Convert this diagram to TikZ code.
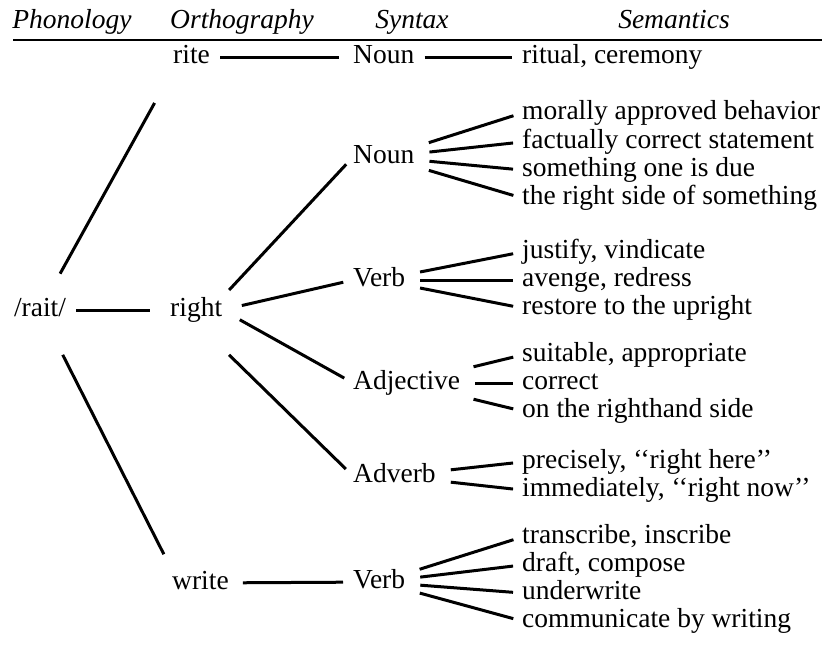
\documentclass[tikz,border=0pt]{standalone}
\usepackage{fontspec}
\setmainfont{Liberation Serif}
\def\sense{\node[sense]}
\def\synnode{\node[syn]}

\begin{document}
\begin{tikzpicture}[x=1pt,y=-1pt,
  every node/.style={inner sep=0pt,text height=19pt,text depth=6pt,
    font=\fontsize{27.5}{28}\selectfont},
  head/.style={font=\fontsize{27.5}{28}\selectfont\itshape},
  word/.style={anchor=west},
  syn/.style={anchor=west},
  sense/.style={anchor=west},
  link/.style={line width=3pt,shorten <=10pt,shorten >=10pt},
  fan/.style={line width=3pt,shorten <=15pt,shorten >=9pt}]
\useasboundingbox (0,0) rectangle (827,645);
% column heads
\node[head] (hphon) at (72,22) {Phonology};
\node[head] (horth) at (242,22) {Orthography};
\node[head] (hsyn) at (412,22) {Syntax};
\node[head] (hsem) at (674,22) {Semantics};
\draw[line width=2pt] (13,40) -- (822,40);
% sound and spellings
\node (rait) at (40,310) {/rait/};
\node[word] (rite) at (173,57) {rite};
\node[word] (right) at (170,310) {right};
\node[word] (write) at (172,583) {write};
% parts of speech
\synnode (noun1) at (353,57) {Noun};
\synnode (noun2) at (353,157) {Noun};
\synnode (verb1) at (353,280) {Verb};
\synnode (adj) at (353,383) {Adjective};
\synnode (adv) at (353,476) {Adverb};
\synnode (verb2) at (353,582) {Verb};
% meanings
\sense (rit1) at (522,57) {ritual, ceremony};
\sense (nn1) at (522,113) {morally approved behavior};
\sense (nn2) at (522,142) {factually correct statement};
\sense (nn3) at (522,170) {something one is due};
\sense (nn4) at (522,198) {the right side of something};
\sense (vb1) at (522,252) {justify, vindicate};
\sense (vb2) at (522,280) {avenge, redress};
\sense (vb3) at (522,308) {restore to the upright};
\sense (adj1) at (522,355) {suitable, appropriate};
\sense (adj2) at (522,383) {correct};
\sense (adj3) at (522,411) {on the righthand side};
\sense (adv1) at (522,462) {precisely, ‘‘right here’’};
\sense (adv2) at (522,490) {immediately, ‘‘right now’’};
\sense (wv1) at (522,537) {transcribe, inscribe};
\sense (wv2) at (522,565) {draft, compose};
\sense (wv3) at (522,593) {underwrite};
\sense (wv4) at (522,621) {communicate by writing};
% links
\draw[link,shorten <=27pt,shorten >=38pt] (rait) -- (rite.south west);
\draw[link,shorten >=20pt] (rait) -- (right);
\draw[link,shorten <=36pt,shorten >=18pt] (rait) -- (write.north west);
\draw[link,shorten >=14pt] (rite) -- (noun1);
\draw[link] (noun1) -- (rit1.west);
\draw[link] (right.north east) -- (noun2.west);
\draw[link,shorten <=20pt] (right.east) -- (verb1.west);
\draw[link,shorten <=20pt] (right.east) -- (adj.west);
\draw[link,shorten <=46pt] (right.south) -- (adv.west);
\draw[link,shorten <=14pt] (write) -- (verb2);
\draw[fan] (noun2) -- (nn1.west);
\draw[fan] (noun2) -- (nn2.west);
\draw[fan] (noun2) -- (nn3.west);
\draw[fan] (noun2) -- (nn4.west);
\draw[fan] (verb1) -- (vb1.west);
\draw[fan] (verb1) -- (vb2.west);
\draw[fan] (verb1) -- (vb3.west);
\draw[fan] (adj) -- (adj1.west);
\draw[fan] (adj) -- (adj2.west);
\draw[fan] (adj) -- (adj3.west);
\draw[fan] (adv) -- (adv1.west);
\draw[fan] (adv) -- (adv2.west);
\draw[fan] (verb2) -- (wv1.west);
\draw[fan] (verb2) -- (wv2.west);
\draw[fan] (verb2) -- (wv3.west);
\draw[fan] (verb2) -- (wv4.west);
\end{tikzpicture}
\end{document}
